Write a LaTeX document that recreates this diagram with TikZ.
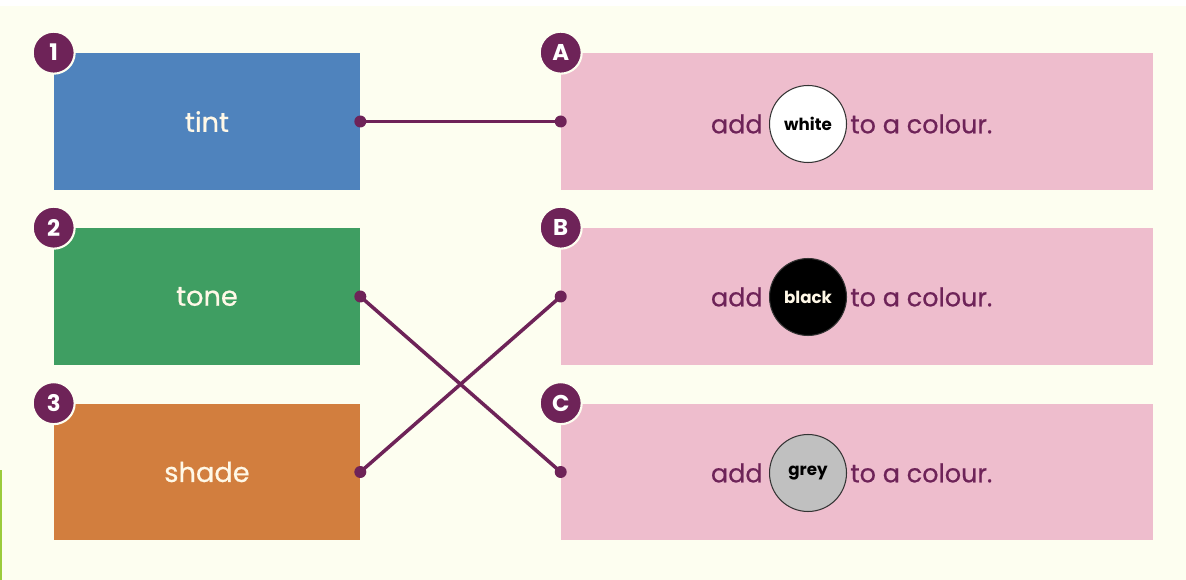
\documentclass[tikz,border=0pt]{standalone}
\usepackage{fontspec}
\setmainfont{Poppins}
\newfontfamily\heavyfont{Poppins}[FakeBold=0.6]
\usetikzlibrary{positioning}
\definecolor{cream}{HTML}{FDFEF0}
\definecolor{plum}{HTML}{6E2358}
\definecolor{tintblue}{HTML}{4F83BD}
\definecolor{tonegreen}{HTML}{3F9E62}
\definecolor{shadeorange}{HTML}{D27E3E}
\definecolor{pinkbox}{HTML}{EEBDCD}
\definecolor{paletext}{HTML}{FFF8E7}
\definecolor{edgegreen}{HTML}{9BCB3C}
\definecolor{swatchgrey}{HTML}{C0C0C0}

\begin{document}
\begin{tikzpicture}[x=0.02cm, y=-0.02cm,
    termbox/.style = {minimum width=6.12cm, minimum height=2.74cm, inner sep=0pt,
      text=paletext, font=\heavyfont\fontsize{15.5}{18}\selectfont},
    defbox/.style = {fill=pinkbox, minimum width=11.84cm, minimum height=2.74cm, inner sep=0pt},
    badge/.style = {circle, fill=plum, draw=cream, line width=1.2pt, minimum size=0.84cm,
      inner sep=0pt, text=white, font=\fontsize{13}{15}\selectfont\bfseries},
    swatch/.style = {circle, draw=black!80, line width=0.6pt, minimum size=1.54cm, inner sep=0pt,
      font=\fontsize{9.5}{11}\selectfont\bfseries},
    addtext/.style = {text=plum, inner sep=0pt, font=\heavyfont\fontsize{14.5}{17}\selectfont},
    dot/.style = {circle, fill=plum, minimum size=0.24cm, inner sep=0pt},
    link/.style = {plum, line width=2pt}]
    \useasboundingbox (0,0) rectangle (1186,580);
    \fill[white] (0,0) rectangle (1186,580);
    \fill[cream] (0,6) rectangle (1186,580);
    \fill[edgegreen] (0,470) rectangle (2.5,580);

    \node[termbox, fill=tintblue] (tint) at (207,121.5) {tint};
    \node[termbox, fill=tonegreen] (tone) at (207,296.5) {tone};
    \node[termbox, fill=shadeorange] (shade) at (207,472) {shade};
    \node[badge] at (tint.north west) {1};
    \node[badge] at (tone.north west) {2};
    \node[badge] at (shade.north west) {3};

    \node[defbox] (defA) at (857,121.5) {};
    \node[defbox] (defB) at (857,296.5) {};
    \node[defbox] (defC) at (857,472) {};
    \node[badge] at (defA.north west) {A};
    \node[badge] at (defB.north west) {B};
    \node[badge] at (defC.north west) {C};

    \node[swatch, fill=white, text=black] (white) at (808,124) {white};
    \node[swatch, fill=black, text=paletext] (black) at (808,297) {black};
    \node[swatch, fill=swatchgrey, text=black] (grey) at (808,473) {grey};
    \foreach \s in {white, black, grey} {
      \node[addtext, left=0.12cm of \s] {add};
      \node[addtext, right=0.06cm of \s] {to a colour.};
    }

    \draw[link] (tint.east) -- (defA.west);
    \draw[link] (tone.east) -- (defC.west);
    \draw[link] (shade.east) -- (defB.west);
    \foreach \b in {tint, tone, shade}
      \node[dot] (\b dot) at (\b.east) {};
    \foreach \b in {defA, defB, defC}
      \node[dot] (\b dot) at (\b.west) {};
\end{tikzpicture}
\end{document}
